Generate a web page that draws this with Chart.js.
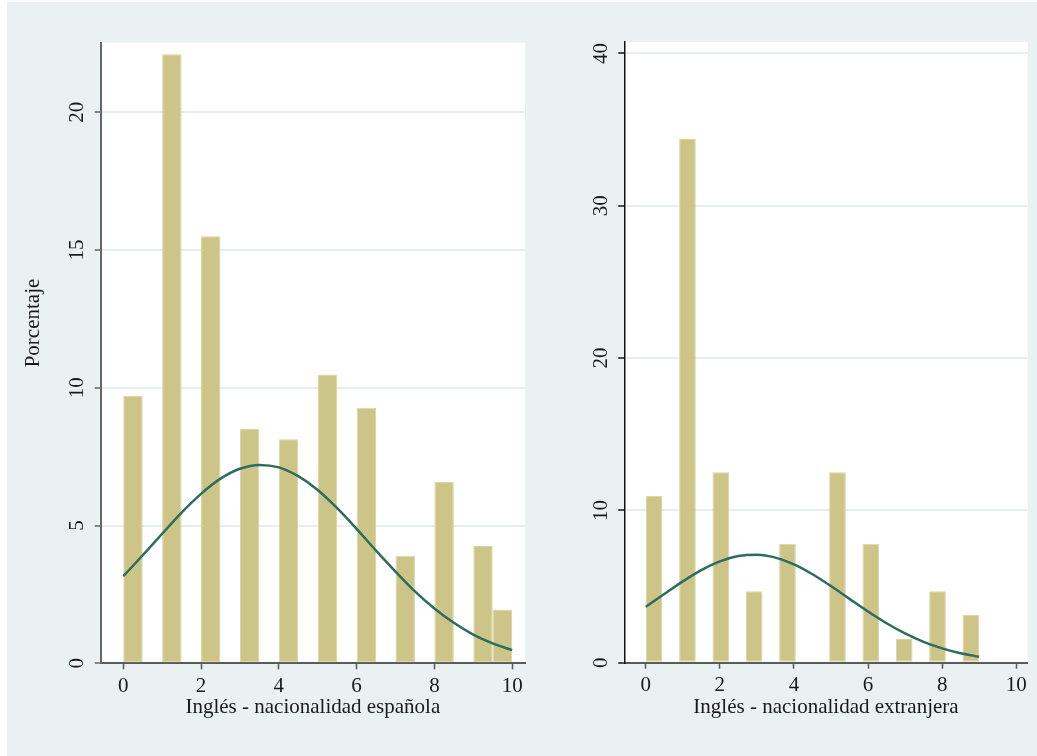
<!DOCTYPE html>
<html>
<head>
<meta charset="utf-8">
<script src="https://cdn.jsdelivr.net/npm/chart.js@4.4.1/dist/chart.umd.min.js"></script>
<style>
  html, body { margin: 0; padding: 0; background: #ffffff; }
  #stage { position: relative; width: 1037px; height: 756px; overflow: hidden; }
  #region { position: absolute; left: 7px; top: 2px; width: 1030px; height: 754px; background: #e9f1f3; }
  canvas { position: absolute; top: 0; }
  #chartEsp { left: 0; }
  #chartExt { left: 530px; }
</style>
</head>
<body>
<div id="stage">
  <div id="region"></div>
  <canvas id="chartEsp" width="530" height="756"></canvas>
  <canvas id="chartExt" width="507" height="756"></canvas>
</div>
<script>
// ---- Histogram: English grade, Spanish nationality (percent per bin, bins of width 0.5) ----
const espBinWidth = 0.5;
const espBinStarts = [0, 0.5, 1, 1.5, 2, 2.5, 3, 3.5, 4, 4.5, 5, 5.5, 6, 6.5, 7, 7.5, 8, 8.5, 9, 9.5];
const espPercent   = [9.7, 0, 22.1, 0, 15.5, 0, 8.5, 0, 8.13, 0, 10.48, 0, 9.27, 0, 3.9, 0, 6.58, 0, 4.26, 1.95];
// fitted normal density, in percent per bin
const espCurveX = [0, 0.5, 1, 1.5, 2, 2.5, 3, 3.5, 4, 4.5, 5, 5.5, 6, 6.5, 7, 7.5, 8, 8.5, 9, 9.5, 10];
const espCurveY = [3.16, 3.92, 4.70, 5.47, 6.15, 6.70, 7.06, 7.20, 7.11, 6.79, 6.29, 5.63, 4.88, 4.09, 3.33, 2.61, 1.99, 1.47, 1.04, 0.72, 0.48];
const espYTicks = [0, 5, 10, 15, 20];

// ---- Histogram: English grade, foreign nationality (bins of width 0.45) ----
const extBinWidth = 0.45;
const extBinStarts = [0, 0.45, 0.9, 1.35, 1.8, 2.25, 2.7, 3.15, 3.6, 4.05, 4.5, 4.95, 5.4, 5.85, 6.3, 6.75, 7.2, 7.65, 8.1, 8.55];
const extPercent   = [10.94, 0, 34.38, 0, 12.5, 0, 4.69, 0, 7.81, 0, 0, 12.5, 0, 7.81, 0, 1.56, 0, 4.69, 0, 3.13];
const extCurveX = [0, 0.5, 1, 1.5, 2, 2.5, 3, 3.5, 4, 4.5, 5, 5.5, 6, 6.5, 7, 7.5, 8, 8.5, 9];
const extCurveY = [3.67, 4.51, 5.34, 6.08, 6.65, 7.00, 7.09, 6.90, 6.46, 5.81, 5.03, 4.19, 3.36, 2.59, 1.92, 1.37, 0.94, 0.62, 0.39];
const extYTicks = [0, 10, 20, 30, 40];

const xTicks = [0, 2, 4, 6, 8, 10];

const SERIF = '"Liberation Serif", "Times New Roman", serif';
const FONT_SIZE = 21;
const INK = '#1a1a1a';
const BAR_FILL = '#cdc587';
const BAR_EDGE = '#dbd5a1';
const CURVE = '#2c6c61';
const GRID = '#e6eef1';

Chart.defaults.font.family = SERIF;
Chart.defaults.color = INK;

// white plot region behind the data
const plotFill = {
  id: 'plotFill',
  beforeDraw(chart, args, opts) {
    const { ctx, chartArea: a } = chart;
    ctx.save();
    ctx.fillStyle = opts.color || '#ffffff';
    ctx.fillRect(a.left, a.top, a.right - a.left, a.bottom - a.top);
    ctx.restore();
  }
};

// rotated side title of the whole graph (left panel only)
const sideTitle = {
  id: 'sideTitle',
  afterDraw(chart, args, o) {
    if (!o || !o.text) return;
    const ctx = chart.ctx;
    ctx.save();
    ctx.translate(o.x, o.y);
    ctx.rotate(-Math.PI / 2);
    ctx.font = o.font;
    ctx.fillStyle = o.color;
    ctx.textAlign = 'center';
    ctx.textBaseline = 'middle';
    ctx.fillText(o.text, 0, 0);
    ctx.restore();
  }
};

function makeHistogram(canvasId, p) {
  const bars = p.binStarts.map((s, i) => ({ x: s + p.binWidth / 2, y: p.values[i] }));
  const curve = p.curveX.map((x, i) => ({ x: x, y: p.curveY[i] }));
  return new Chart(document.getElementById(canvasId), {
    type: 'bar',
    data: {
      datasets: [
        {
          type: 'line',
          data: curve,
          borderColor: CURVE,
          borderWidth: 2.5,
          pointRadius: 0,
          tension: 0.4,
          cubicInterpolationMode: 'monotone',
          fill: false,
          order: 0
        },
        {
          type: 'bar',
          data: bars,
          backgroundColor: BAR_FILL,
          borderColor: BAR_EDGE,
          borderWidth: 1,
          borderSkipped: false,
          inflateAmount: 0,
          barPercentage: 1,
          categoryPercentage: 1,
          order: 1
        }
      ]
    },
    options: {
      responsive: false,
      animation: false,
      events: [],
      layout: { padding: p.padding },
      plugins: {
        legend: { display: false },
        tooltip: { enabled: false },
        plotFill: { color: '#ffffff' },
        sideTitle: p.sideTitle || {}
      },
      scales: {
        x: {
          type: 'linear',
          min: p.xMin,
          max: p.xMax,
          bounds: 'data',
          offset: false,
          afterBuildTicks: s => { s.ticks = xTicks.map(v => ({ value: v })); },
          afterFit: s => { s.height = p.xAxisHeight; },
          ticks: { font: { size: FONT_SIZE }, color: INK, padding: 4.5, maxRotation: 0, autoSkip: false },
          grid: { offset: false, drawOnChartArea: false, drawTicks: true, tickLength: 6, tickColor: '#5a5a5a', tickWidth: 1.5 },
          border: { color: '#5a5a5a', width: 2 },
          title: { display: true, text: p.xTitle, font: { size: FONT_SIZE }, color: INK, padding: { top: 0, bottom: 35.5 } }
        },
        y: {
          type: 'linear',
          min: 0,
          max: p.yMax,
          bounds: 'data',
          afterBuildTicks: s => { s.ticks = p.yTicks.map(v => ({ value: v })); },
          afterFit: s => { s.width = p.yAxisWidth; },
          ticks: { font: { size: FONT_SIZE }, color: INK, minRotation: 90, maxRotation: 90, crossAlign: 'center', padding: 6.5, autoSkip: false },
          grid: {
            color: ctx => (ctx.tick && ctx.tick.value === 0) ? 'rgba(0,0,0,0)' : GRID,
            lineWidth: 2,
            drawTicks: true,
            tickLength: 6,
            tickColor: p.yAxisColor,
            tickWidth: 1.5
          },
          border: { color: p.yAxisColor, width: p.yAxisLineWidth }
        }
      }
    },
    plugins: [plotFill, sideTitle]
  });
}

makeHistogram('chartEsp', {
  binStarts: espBinStarts, binWidth: espBinWidth, values: espPercent,
  curveX: espCurveX, curveY: espCurveY,
  yTicks: espYTicks, yMax: 22.52, xMin: -0.58, xMax: 10.33,
  xTitle: 'Inglés - nacionalidad española',
  padding: { top: 42.7, right: 5, bottom: 0, left: 0 },
  yAxisWidth: 100.7, xAxisHeight: 92.7,
  yAxisColor: '#666666', yAxisLineWidth: 2,
  sideTitle: { text: 'Porcentaje', x: 33, y: 323, font: FONT_SIZE + 'px ' + SERIF, color: INK }
});

makeHistogram('chartExt', {
  binStarts: extBinStarts, binWidth: extBinWidth, values: extPercent,
  curveX: extCurveX, curveY: extCurveY,
  yTicks: extYTicks, yMax: 40.75, xMin: -0.58, xMax: 10.31,
  xTitle: 'Inglés - nacionalidad extranjera',
  padding: { top: 42, right: 9.3, bottom: 0, left: 0 },
  yAxisWidth: 94.3, xAxisHeight: 93.3,
  yAxisColor: '#111111', yAxisLineWidth: 1.5
});
</script>
</body>
</html>
